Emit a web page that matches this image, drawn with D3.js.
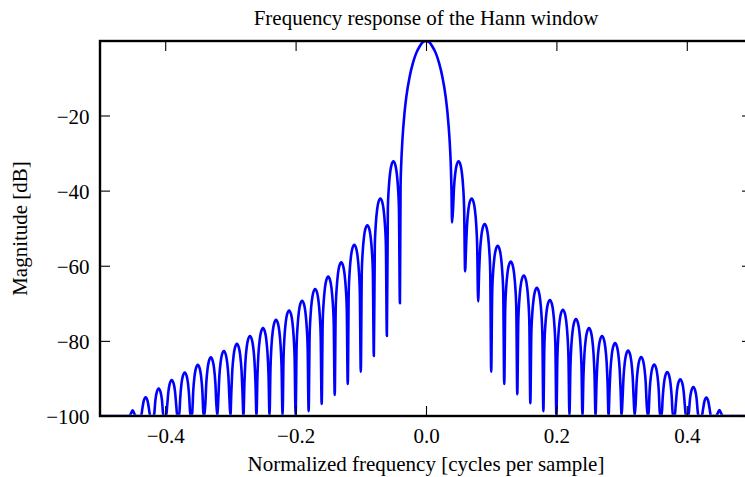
<!DOCTYPE html>
<html>
<head>
<meta charset="utf-8">
<script src="https://cdn.jsdelivr.net/npm/d3@7"></script>
<style>
  body { margin: 0; background: #fff; }
  svg { display: block; }
  text { font-family: "Liberation Serif", "Times New Roman", serif; fill: #000; }
</style>
</head>
<body>
<svg id="chart" width="745" height="477"></svg>
<script>
// ---- data ----
const titleText = "Frequency response of the Hann window";
const xLabelText = "Normalized frequency [cycles per sample]";
const yLabelText = "Magnitude [dB]";

const xTicks = [-0.4, -0.2, 0.0, 0.2, 0.4];
const yTicks = [-20, -40, -60, -80, -100];

// main lobe (one half, mirrored)
const mainLobeFreq = [0, 0.005, 0.010, 0.015, 0.020, 0.025, 0.030, 0.033, 0.036, 0.038, 0.039];
const mainLobeDb   = [-0.17, -0.5, -1.7, -3.4, -6.0, -9.6, -14.8, -19.4, -26.0, -33.0, -39.0];

// null frequencies (positive side; mirrored for the negative side)
const nullFreq = [0.04, 0.06, 0.08, 0.10, 0.12, 0.14, 0.16, 0.18, 0.20, 0.22, 0.24,
                  0.26, 0.28, 0.30, 0.32, 0.34, 0.36, 0.38, 0.40, 0.42, 0.44, 0.46];

// depth reached by the line at each null
const nullDbRight = [-48.5, -61.5, -69.5, -88.2, -91.5, -94.2, -96.6, -98.7, -100, -100, -100,
                     -100, -100, -100, -100, -100, -100, -100, -100, -100, -100, -100];
const nullDbLeft  = [-70.0, -78.7, -84.0, -88.2, -91.5, -94.4, -96.8, -98.7, -100, -100, -100,
                     -100, -100, -100, -100, -100, -100, -100, -100, -100, -100, -100];

// side-lobe peaks, from the main lobe outward
const peakDbRight = [-32.2, -42.1, -48.9, -54.7, -58.9, -62.6, -65.9, -69.1, -71.7, -74.2, -76.6,
                     -78.7, -80.6, -82.6, -84.3, -86.3, -88.3, -90.2, -92.3, -95.1, -98.4];
const peakDbLeft  = [-32.2, -42.1, -49.2, -54.4, -59.1, -62.9, -66.2, -69.3, -71.9, -74.4, -76.6,
                     -78.7, -80.8, -82.7, -84.4, -86.4, -88.4, -90.4, -92.7, -95.0, -98.5];

// shape of one side lobe: fraction of half-width from its centre, dB below its peak
const lobeShapeU  = [0.3, 0.5, 0.7, 0.85];
const lobeShapeDb = [-1.0, -3.0, -6.9, -12.6];

const floorDb = -100;
const xDomain = [-0.5, 0.5];
const yDomain = [-100, -0.17];

// ---- build the series ----
function side(sign, nullDb, peakDb) {
  const pts = [];
  for (let i = 0; i < peakDb.length; i++) {
    const a = nullFreq[i], b = nullFreq[i + 1];
    const c = (a + b) / 2, h = (b - a) / 2;
    if (i === 0) pts.push([a, nullDb[0]]);
    for (let j = lobeShapeU.length - 1; j >= 0; j--) pts.push([c - lobeShapeU[j] * h, peakDb[i] + lobeShapeDb[j]]);
    pts.push([c, peakDb[i]]);
    for (let j = 0; j < lobeShapeU.length; j++) pts.push([c + lobeShapeU[j] * h, peakDb[i] + lobeShapeDb[j]]);
    pts.push([b, nullDb[i + 1]]);
  }
  pts.push([xDomain[1], floorDb]);
  return pts.map(p => [sign * p[0], Math.max(floorDb, p[1])]);
}

const leftPts = side(-1, nullDbLeft, peakDbLeft).reverse();
const mainPts = [];
for (let i = mainLobeFreq.length - 1; i > 0; i--) mainPts.push([-mainLobeFreq[i], mainLobeDb[i]]);
for (let i = 0; i < mainLobeFreq.length; i++) mainPts.push([mainLobeFreq[i], mainLobeDb[i]]);
const rightPts = side(1, nullDbRight, peakDbRight);
const series = leftPts.concat(mainPts, rightPts);

// ---- layout ----
const L = 100, R = 752, T = 41, B = 416;
const svg = d3.select("#chart");
const x = d3.scaleLinear().domain(xDomain).range([L, R]);
const y = d3.scaleLinear().domain(yDomain).range([B, T]);

// clip keeps the blue line from bleeding over the bottom spine
svg.append("defs").append("clipPath").attr("id", "clip")
  .append("rect").attr("x", L).attr("y", T).attr("width", R - L).attr("height", B - T - 1.3);

const line = d3.line().x(d => x(d[0])).y(d => y(d[1])).curve(d3.curveMonotoneX);
svg.append("path").datum(series)
  .attr("clip-path", "url(#clip)")
  .attr("d", line)
  .attr("fill", "none")
  .attr("stroke", "#0000ff")
  .attr("stroke-width", 2.6)
  .attr("stroke-linejoin", "round");

// ticks (inward, all four sides)
const tickLen = 10;
const fmtX = d => (d < 0 ? "\u2212" : "") + Math.abs(d).toFixed(1);
const fmtY = d => (d < 0 ? "\u2212" : "") + Math.abs(d);

const axB = d3.axisBottom(x).tickValues(xTicks).tickSize(-tickLen).tickPadding(12).tickFormat(fmtX);
const axT = d3.axisTop(x).tickValues(xTicks).tickSize(-tickLen).tickFormat("");
const axL = d3.axisLeft(y).tickValues(yTicks).tickSize(-tickLen).tickPadding(10.5).tickFormat(fmtY);
const axR = d3.axisRight(y).tickValues(yTicks).tickSize(-tickLen).tickFormat("");

function styleAxis(g) {
  g.select(".domain").remove();
  g.selectAll(".tick line").attr("stroke", "#000").attr("stroke-width", 1.1);
  g.selectAll(".tick text").attr("font-size", 21).attr("font-family", "Liberation Serif, serif");
}
svg.append("g").attr("transform", `translate(0,${B})`).call(axB).call(styleAxis)
  .selectAll(".tick text").attr("dy", "0.71em");
svg.append("g").attr("transform", `translate(0,${T})`).call(axT).call(styleAxis);
svg.append("g").attr("transform", `translate(${L},0)`).call(axL).call(styleAxis)
  .selectAll(".tick text").attr("dy", "0.38em");
svg.append("g").attr("transform", `translate(${R},0)`).call(axR).call(styleAxis);

// frame
svg.append("rect").attr("x", L).attr("y", T).attr("width", R - L).attr("height", B - T)
  .attr("fill", "none").attr("stroke", "#000").attr("stroke-width", 2.4);

// title and labels
svg.append("text").attr("x", (L + R) / 2).attr("y", 25).attr("text-anchor", "middle")
  .attr("font-size", 21).text(titleText);
svg.append("text").attr("x", (L + R) / 2).attr("y", 471).attr("text-anchor", "middle")
  .attr("font-size", 21).text(xLabelText);
svg.append("text").attr("transform", `translate(26.5,${(T + B) / 2}) rotate(-90)`)
  .attr("text-anchor", "middle").attr("font-size", 21).text(yLabelText);
</script>
</body>
</html>
